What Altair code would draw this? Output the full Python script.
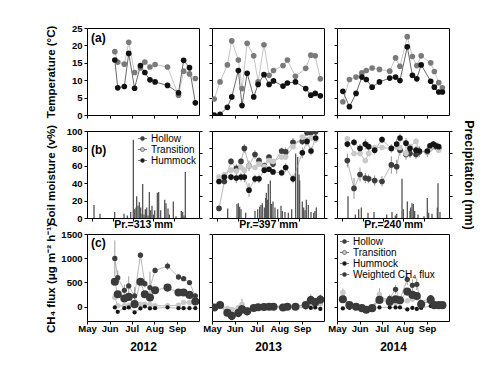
import altair as alt
import pandas as pd

MONTH_DAYS = [0, 31, 61, 92, 123]
MONTH_NAMES = ["May", "Jun", "Jul", "Aug", "Sep"]
YEARS = ["2012", "2013", "2014"]
PR_TITLES = ["Pr.=313 mm", "Pr.=397 mm", "Pr.=240 mm"]
TEMP_SERIES = ["Ambient", "Soil"]
SITE_SERIES = ["Hollow", "Transition", "Hummock"]
FLUX_SERIES = ["Hollow", "Transition", "Hummock", "Weighted CH\u2084 flux"]

# ---- (a) temperature; day = days after 1 May ----
T_DAY_2012 = [38, 42, 51, 57, 65, 73, 79, 86, 93, 110, 125, 132, 140, 148]
T_AMB_2012 = [18.2, 15.2, 14.6, 20.9, 12.2, 13.5, 15.2, 13.8, 14.5, 13.8, 5.7, 12.6, 11.8, 10.5]
T_SOIL_2012 = [15.8, 7.8, 8.2, 17.7, 7.7, 14.2, 12.2, 10.1, 9.5, 8.5, 6.4, 15.7, 13.6, 3.5]
T_DAY_2013 = [3, 11, 21, 27, 36, 41, 48, 57, 63, 71, 78, 84, 97, 103, 114, 128, 135, 141, 148]
T_AMB_2013 = [4.6, 9.5, 14.4, 21.3, 15.8, 7.6, 20.6, 17.0, 9.5, 20.2, 11.4, 12.8, 14.2, 15.8, 11.1, 13.4, 17.2, 17.0, 10.4]
T_SOIL_2013 = [0.0, 0.2, 2.2, 5.2, 12.8, 2.7, 12.0, 5.2, 8.8, 11.6, 8.8, 9.8, 8.3, 9.2, 9.5, 7.6, 5.7, 6.2, 5.5]
T_DAY_2014 = [8, 17, 26, 34, 40, 48, 58, 72, 80, 86, 96, 103, 109, 115, 128, 133, 139, 144]
T_AMB_2014 = [3.8, 10.2, 10.9, 12.1, 12.8, 13.5, 13.1, 12.6, 16.4, 14.0, 22.5, 16.8, 14.2, 17.0, 15.0, 12.5, 9.3, 7.8]
T_SOIL_2014 = [6.8, 2.4, 6.2, 10.9, 10.2, 8.0, 9.5, 10.6, 10.9, 9.9, 19.6, 11.4, 10.4, 14.4, 9.7, 8.0, 6.6, 6.6]

# ---- (b) soil moisture ----
SM_DAY_2013 = [3, 11, 21, 29, 36, 41, 48, 57, 63, 71, 78, 84, 97, 103, 114, 128, 135, 141, 148]
SM_HOLLOW_2013 = [11, 42, 65, 57, 65, 80, 60, 73, 66, 60, 70, 62, 77, 76, 87, 88, 98, 98, 99]
SM_TRANS_2013 = [47, 50, 55, 54, 58, 55, 60, 58, 62, 59, 66, 65, 70, 70, 82, 93, 90, 92, 90]
SM_HUMM_2013 = [42, 47, 47, 46, 47, 47, 32, 45, 45, 55, 56, 53, 52, 58, 45, 75, 88, 77, 92]
SM_HOLLOW_ERR_2013 = [2, 3, 4, 5, 4, 5, 6, 5, 4, 4, 3, 4, 4, 5, 5, 4, 3, 3, 3]
SM_HUMM_ERR_2013 = [3, 3, 4, 6, 5, 6, 8, 5, 5, 4, 3, 3, 4, 5, 5, 6, 5, 5, 5]
SM_DAY_2014 = [8, 18, 27, 35, 40, 49, 60, 74, 82, 87, 96, 102, 111, 116, 128, 132, 137, 141, 145]
SM_HOLLOW_2014 = [66, 34, 50, 46, 45, 43, 42, 61, 59, 78, 73, 74, 73, 76, 76, 80, 83, 82, 80]
SM_TRANS_2014 = [91, 74, 74, 66, 74, 81, 81, 80, 82, 81, 74, 82, 88, 77, 76, 80, 83, 84, 78]
SM_HUMM_2014 = [85, 87, 80, 85, 82, 78, 90, 80, 85, 92, 86, 80, 78, 77, 77, 83, 85, 83, 82]
SM_HOLLOW_ERR_2014 = [8, 12, 8, 6, 5, 6, 6, 10, 8, 6, 6, 5, 5, 6, 6, 4, 4, 4, 4]
SM_HUMM_ERR_2014 = [4, 4, 5, 6, 5, 5, 4, 5, 6, 5, 6, 5, 5, 5, 4, 4, 3, 3, 3]

# ---- precipitation bars ----
P_DAY_2012 = [3, 12, 34, 48, 53, 58, 62, 64, 66, 67, 69, 71, 73, 75, 76, 78, 80, 82, 84, 86,
              88, 90, 92, 94, 98, 100, 103, 109, 111, 114, 116, 122, 126, 134, 136, 138, 140]
P_MM_2012 = [15, 5, 7, 5, 3, 7, 90, 10, 12, 25, 14, 18, 12, 5, 39, 4, 10, 12, 3, 30,
             9, 14, 4, 9, 29, 30, 9, 21, 17, 11, 4, 19, 2, 8, 7, 3, 53]
P_DAY_2013 = [16, 30, 32, 34, 36, 43, 57, 61, 64, 66, 68, 71, 73, 74, 76, 77, 80, 82, 84, 87,
              91, 96, 98, 102, 107, 112, 118, 121, 123, 124, 128, 130, 132, 134, 137, 141, 145, 147, 149]
P_MM_2013 = [11, 16, 17, 13, 10, 6, 8, 10, 13, 15, 17, 12, 23, 29, 21, 39, 43, 16, 19, 12,
             10, 14, 8, 7, 6, 10, 74, 70, 50, 43, 19, 12, 9, 21, 15, 7, 6, 8, 12]
P_DAY_2014 = [9, 20, 25, 29, 39, 48, 67, 75, 80, 82, 90, 92, 98, 102, 103, 105, 107, 109, 114, 123,
              128, 130, 135, 143, 144, 147]
P_MM_2014 = [25, 4, 10, 12, 6, 7, 4, 7, 3, 5, 45, 10, 19, 8, 12, 17, 16, 8, 4, 2,
             23, 6, 5, 12, 40, 7]

# ---- (c) CH4 flux ----
F_HOLLOW_2012 = [994, 596, 335, 425, 220, 1062, 473, 391, 747, 836, 610, 576, 494, 220]
F_TRANS_2012 = [186, 14, 14, 28, 83, 49, 49, 35, 14, 14, 28, 83, 83, 138]
F_HUMM_2012 = [-20, -109, -34, -20, -123, -41, 0, -41, -34, -20, -34, -34, -34, -34]
F_WEIGHT_2012 = [514, 254, 165, 199, 49, 514, 254, 186, 336, 391, 288, 288, 240, 103]
F_HOLLOW_ERR_2012 = [370, 150, 120, 200, 180, 60, 80, 330, 60, 80, 50, 50, 40, 60]
F_TRANS_ERR_2012 = [0, 0, 0, 0, 0, 0, 0, 0, 0, 0, 0, 0, 0, 0]
F_HOLLOW_2013 = [-20, 50, -120, -180, -120, -30, -100, -20, -10, 0, 0, 0, -20, 0, 0, 40, 170, 120, 180]
F_TRANS_2013 = [-20, 30, -40, -60, -20, 40, -60, -20, 0, 0, 10, 10, 0, 10, 10, 30, 60, 40, 50]
F_HUMM_2013 = [-30, 10, -160, -240, -180, -100, -140, -50, -30, -20, -30, -20, -40, -20, -30, -20, -30, -20, -50]
F_WEIGHT_2013 = [-20, 30, -130, -190, -130, -60, -100, -30, -15, -10, -5, -5, -20, -5, -5, 30, 130, 90, 140]
F_HOLLOW_ERR_2013 = [30, 60, 50, 50, 60, 40, 60, 30, 20, 20, 20, 20, 20, 20, 20, 30, 80, 60, 70]
F_TRANS_ERR_2013 = [0, 0, 0, 0, 0, 120, 0, 0, 0, 0, 0, 0, 0, 0, 0, 0, 0, 0, 0]
F_HOLLOW_2014 = [150, 40, 0, -30, -60, -20, 150, 170, 356, 150, 562, 438, 459, 83, 185, 30, 10, 10]
F_TRANS_2014 = [290, 20, -10, -30, -60, -30, 250, 60, 80, 100, 120, 150, 185, 60, 100, 20, 10, 10]
F_HUMM_2014 = [-40, -30, -30, -40, -60, -40, -20, -20, -20, -20, -60, -30, -50, -30, 10, -10, -10, -10]
F_WEIGHT_2014 = [151, 28, -6, -34, -68, -34, 137, 97, 151, 130, 308, 240, 219, 48, 137, 28, 28, 28]
F_HOLLOW_ERR_2014 = [50, 20, 20, 20, 20, 20, 60, 80, 90, 60, 120, 120, 120, 40, 40, 20, 20, 20]
F_TRANS_ERR_2014 = [80, 0, 0, 0, 0, 0, 130, 0, 0, 0, 0, 0, 60, 0, 0, 0, 0, 0]

FONT = "Liberation Sans"
LABEL_EXPR = ("[" + ",".join("'%s'" % m for m in MONTH_NAMES) + "][indexof(["
              + ",".join(str(d) for d in MONTH_DAYS) + "], datum.value)]")
LEG_PATH = "M-1,0L-0.44,0M0.44,0L1,0M0.44,0A0.44,0.44,0,1,1,-0.44,0A0.44,0.44,0,1,1,0.44,0"
W, H = 112, 87


def long_df(days, series, errs=None):
    rows = []
    errs = errs or {}
    for name, vals in series.items():
        e = errs.get(name)
        for i, (d, v) in enumerate(zip(days, vals)):
            rows.append({"day": d, "value": v, "err": (e[i] if e else 0), "series": name})
    return pd.DataFrame(rows, columns=["day", "value", "err", "series"])


def make_legend(orient):
    return alt.Legend(orient=orient, title=None, symbolType=LEG_PATH, symbolSize=85,
                      symbolStrokeColor="#555555", symbolStrokeWidth=0.8,
                      labelFontSize=10, labelFont=FONT, labelFontWeight="normal",
                      labelColor="black", offset=2, padding=0, rowPadding=0,
                      labelOffset=3)


def x_enc(row, col):
    common = dict(values=MONTH_DAYS, tickSize=3, domain=False, grid=False)
    if row == 2:
        ax = alt.Axis(labelExpr=LABEL_EXPR, title=YEARS[col], labelPadding=-1,
                      titleY=20, titleBaseline="top", labelFlush=False, labelOverlap=False,
                      titleFontSize=12, **common)
    elif row == 1:
        ax = alt.Axis(labels=False, title=PR_TITLES[col], titleY=1, titleBaseline="top",
                      titleFontSize=10.5, **common)
    else:
        ax = alt.Axis(labels=False, title=None, **common)
    return alt.X("day:Q", scale=alt.Scale(domain=[0, 153], nice=False, zero=False), axis=ax)


def y_axis(col, title, values):
    if col == 0:
        return alt.Axis(values=values, title=title, format="d", minExtent=27, maxExtent=27,
                        titlePadding=4, labelPadding=2, tickSize=3, domain=False, grid=False)
    return alt.Axis(values=values, labels=False, title=None, tickSize=3, domain=False, grid=False)


def panel_label(text, dy):
    return alt.Chart(pd.DataFrame({"t": [text]})).mark_text(
        align="left", baseline="middle", fontSize=12, fontWeight="bold", font=FONT
    ).encode(x=alt.value(4), y=alt.value(dy), text="t:N")


def temp_panel(col, days, amb, soil):
    df = long_df(days, {"Ambient": amb, "Soil": soil})
    x = x_enc(0, col)
    y = alt.Y("value:Q", scale=alt.Scale(domain=[0, 25], nice=False, zero=False),
              axis=y_axis(col, "Temperature (\u00b0C)", [0, 5, 10, 15, 20, 25]))
    base = alt.Chart(df)
    lines = base.mark_line(strokeWidth=0.8, clip=True).encode(
        x=x, y=y, stroke=alt.Stroke("series:N", scale=alt.Scale(domain=TEMP_SERIES, range=["#b5b5b5", "#444444"]), legend=None))
    leg = make_legend("top-left") if col == 2 else None
    pts = base.mark_point(filled=True, size=32, opacity=1, clip=True).encode(
        x=x, y=y, fill=alt.Fill("series:N", scale=alt.Scale(domain=TEMP_SERIES, range=["#7a7a7a", "#111111"]), legend=leg))
    layers = [lines, pts]
    if col == 0:
        layers.append(panel_label("(a)", 10))
    return alt.layer(*layers).properties(width=W, height=H)


def sm_panel(col, days, series, errs, p_days, p_mm):
    df = long_df(days, series, errs)
    pdf = pd.DataFrame({"day": p_days, "precip": p_mm})
    x = x_enc(1, col)
    ysc = alt.Scale(domain=[0, 100], nice=False, zero=False)
    yax = y_axis(col, "Soil moisture (v%)", [0, 20, 40, 60, 80, 100])
    y = alt.Y("value:Q", scale=ysc, axis=yax)
    yp = alt.Y("precip:Q", scale=alt.Scale(domain=[0, 100], nice=False, zero=False),
               axis=alt.Axis(orient="right", labels=False, values=[0, 25, 50, 75, 100], tickSize=3,
                             domain=False, grid=False,
                             title=("Precipitation (mm)" if col == 2 else None),
                             titleAngle=90, titlePadding=9, titleFontSize=12.5))
    bars = alt.Chart(pdf).mark_bar(size=1.3, color="#555555", clip=True).encode(x=x, y=yp)
    base = alt.Chart(df)
    lines = base.mark_line(strokeWidth=0.7, color="#999999", clip=True).encode(x=x, y=y, detail="series:N")
    ebars = base.transform_filter("datum.err > 0").transform_calculate(
        lo="datum.value - datum.err", hi="datum.value + datum.err"
    ).mark_rule(strokeWidth=0.7, color="#666666", clip=True).encode(
        x=x, y=alt.Y("lo:Q", scale=ysc, axis=yax), y2="hi:Q")
    leg = make_legend("top-right") if col == 0 else None
    pts = base.mark_point(filled=True, size=32, opacity=1, clip=True).encode(
        x=x, y=y, fill=alt.Fill("series:N", scale=alt.Scale(domain=SITE_SERIES, range=["#3d3d3d", "#c9c9c9", "#151515"]), legend=leg))
    left = alt.layer(lines, ebars, pts)
    layers = [bars, left]
    if col == 0:
        layers.append(panel_label("(b)", 19))
    return alt.layer(*layers).resolve_scale(y="independent").properties(width=W, height=H)


def flux_panel(col, days, hollow, trans, humm, weight, hollow_err, trans_err):
    df = long_df(days, {"Hollow": hollow, "Transition": trans, "Hummock": humm, FLUX_SERIES[3]: weight},
                 {"Hollow": hollow_err, "Transition": trans_err})
    x = x_enc(2, col)
    ysc = alt.Scale(domain=[-300, 1500], nice=False, zero=False)
    yax = y_axis(col, "CH\u2084 flux (\u03bcg m\u207b\u00b2 h\u207b\u00b9)", [0, 500, 1000, 1500])
    y = alt.Y("value:Q", scale=ysc, axis=yax)
    base = alt.Chart(df)
    lines = base.mark_line(strokeWidth=0.7, color="#999999", clip=True).encode(x=x, y=y, detail="series:N")
    ebars = base.transform_filter("datum.err > 0").transform_calculate(
        lo="datum.value - datum.err", hi="datum.value + datum.err"
    ).mark_rule(strokeWidth=0.7, color="#777777", clip=True).encode(
        x=x, y=alt.Y("lo:Q", scale=ysc, axis=yax), y2="hi:Q")
    leg = make_legend("top-left") if col == 2 else None
    fill = alt.Fill("series:N", scale=alt.Scale(domain=FLUX_SERIES, range=["#3d3d3d", "#c9c9c9", "#151515", "#3a3a3a"]), legend=leg)
    layers = [lines, ebars]
    for name, size in [("Transition", 30), ("Hollow", 28), ("Hummock", 18), (FLUX_SERIES[3], 65)]:
        layers.append(base.transform_filter(alt.datum.series == name).mark_point(
            filled=True, size=size, opacity=1, clip=True).encode(x=x, y=y, fill=fill))
    if col == 0:
        layers.append(panel_label("(c)", 9))
    return alt.layer(*layers).properties(width=W, height=H)


panels = [
    temp_panel(0, T_DAY_2012, T_AMB_2012, T_SOIL_2012),
    temp_panel(1, T_DAY_2013, T_AMB_2013, T_SOIL_2013),
    temp_panel(2, T_DAY_2014, T_AMB_2014, T_SOIL_2014),
    sm_panel(0, [], {}, {}, P_DAY_2012, P_MM_2012),
    sm_panel(1, SM_DAY_2013, {"Hollow": SM_HOLLOW_2013, "Transition": SM_TRANS_2013, "Hummock": SM_HUMM_2013},
             {"Hollow": SM_HOLLOW_ERR_2013, "Hummock": SM_HUMM_ERR_2013}, P_DAY_2013, P_MM_2013),
    sm_panel(2, SM_DAY_2014, {"Hollow": SM_HOLLOW_2014, "Transition": SM_TRANS_2014, "Hummock": SM_HUMM_2014},
             {"Hollow": SM_HOLLOW_ERR_2014, "Hummock": SM_HUMM_ERR_2014}, P_DAY_2014, P_MM_2014),
    flux_panel(0, T_DAY_2012, F_HOLLOW_2012, F_TRANS_2012, F_HUMM_2012, F_WEIGHT_2012, F_HOLLOW_ERR_2012, F_TRANS_ERR_2012),
    flux_panel(1, T_DAY_2013, F_HOLLOW_2013, F_TRANS_2013, F_HUMM_2013, F_WEIGHT_2013, F_HOLLOW_ERR_2013, F_TRANS_ERR_2013),
    flux_panel(2, T_DAY_2014, F_HOLLOW_2014, F_TRANS_2014, F_HUMM_2014, F_WEIGHT_2014, F_HOLLOW_ERR_2014, F_TRANS_ERR_2014),
]

chart = alt.concat(*panels, columns=3, spacing={"row": 16, "column": 13}, bounds="flush").resolve_scale(
    fill="independent", stroke="independent"
).resolve_legend(fill="independent").properties(
    padding={"left": 36, "top": 14, "right": 5, "bottom": 5}
).configure(font=FONT).configure_view(stroke="black", strokeWidth=1).configure_axis(
    labelFont=FONT, labelFontSize=9.5, labelFontWeight="bold", labelColor="black",
    titleFont=FONT, titleFontSize=11.5, titleFontWeight="bold", titleColor="black",
    tickColor="black", tickWidth=1
)

chart.save("out.html", embed_options={"renderer": "svg", "actions": False})
